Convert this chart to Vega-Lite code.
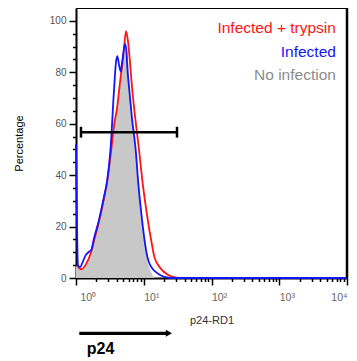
{
  "$schema": "https://vega.github.io/schema/vega-lite/v6.json",
  "width": 271,
  "height": 270,
  "autosize": {"type": "none"},
  "padding": {"left": 76, "top": 8, "right": 10, "bottom": 83},
  "background": "white",
  "config": {
    "font": "Liberation Sans",
    "view": {"stroke": "black", "strokeWidth": 1},
    "axis": {"grid": false, "domainColor": "black", "domainWidth": 2, "tickColor": "black", "tickWidth": 1.5, "labelFont": "Liberation Sans", "titleFont": "Liberation Sans"}
  },
  "datasets": {
    "hist": [
      {"series": "No infection", "x": 1.0, "y": 4.6},
      {"series": "No infection", "x": 1.0452, "y": 4.6},
      {"series": "No infection", "x": 1.1974, "y": 3.6},
      {"series": "No infection", "x": 1.3905, "y": 5.5},
      {"series": "No infection", "x": 1.648, "y": 9.8},
      {"series": "No infection", "x": 1.8443, "y": 14.8},
      {"series": "No infection", "x": 2.1853, "y": 22.5},
      {"series": "No infection", "x": 2.5893, "y": 31.5},
      {"series": "No infection", "x": 2.8969, "y": 38},
      {"series": "No infection", "x": 3.2855, "y": 49.5},
      {"series": "No infection", "x": 3.6756, "y": 60},
      {"series": "No infection", "x": 4.0287, "y": 67},
      {"series": "No infection", "x": 4.5681, "y": 76},
      {"series": "No infection", "x": 5.1115, "y": 86},
      {"series": "No infection", "x": 5.4711, "y": 89},
      {"series": "No infection", "x": 5.8559, "y": 85},
      {"series": "No infection", "x": 6.2677, "y": 72},
      {"series": "No infection", "x": 6.9395, "y": 60},
      {"series": "No infection", "x": 7.6055, "y": 49.5},
      {"series": "No infection", "x": 8.3094, "y": 36.5},
      {"series": "No infection", "x": 9.3246, "y": 23.5},
      {"series": "No infection", "x": 10.434, "y": 12.5},
      {"series": "No infection", "x": 11.556, "y": 6},
      {"series": "No infection", "x": 12.795, "y": 2.5},
      {"series": "No infection", "x": 13.928, "y": 0.5},
      {"series": "No infection", "x": 14.656, "y": 0},
      {"series": "No infection", "x": 10000, "y": 0},
      {"series": "Infected + trypsin", "x": 1.0346, "y": 5},
      {"series": "Infected + trypsin", "x": 1.1974, "y": 3.4},
      {"series": "Infected + trypsin", "x": 1.3905, "y": 5.2},
      {"series": "Infected + trypsin", "x": 1.648, "y": 9.6},
      {"series": "Infected + trypsin", "x": 1.8443, "y": 14.5},
      {"series": "Infected + trypsin", "x": 2.1853, "y": 22},
      {"series": "Infected + trypsin", "x": 2.5893, "y": 31},
      {"series": "Infected + trypsin", "x": 2.8969, "y": 38},
      {"series": "Infected + trypsin", "x": 3.2855, "y": 49},
      {"series": "Infected + trypsin", "x": 3.6756, "y": 60},
      {"series": "Infected + trypsin", "x": 4.0287, "y": 66},
      {"series": "Infected + trypsin", "x": 4.4608, "y": 76},
      {"series": "Infected + trypsin", "x": 5.0253, "y": 87},
      {"series": "Infected + trypsin", "x": 5.4711, "y": 96},
      {"series": "Infected + trypsin", "x": 5.8559, "y": 92},
      {"series": "Infected + trypsin", "x": 6.1204, "y": 87},
      {"series": "Infected + trypsin", "x": 6.7765, "y": 73},
      {"series": "Infected + trypsin", "x": 7.4268, "y": 63},
      {"series": "Infected + trypsin", "x": 8.5094, "y": 49.8},
      {"series": "Infected + trypsin", "x": 9.6498, "y": 36.8},
      {"series": "Infected + trypsin", "x": 11.284, "y": 23.8},
      {"series": "Infected + trypsin", "x": 13.103, "y": 13.5},
      {"series": "Infected + trypsin", "x": 14.312, "y": 8.3},
      {"series": "Infected + trypsin", "x": 16.965, "y": 4.4},
      {"series": "Infected + trypsin", "x": 23.03, "y": 1.2},
      {"series": "Infected + trypsin", "x": 32.359, "y": 0},
      {"series": "Infected + trypsin", "x": 10000, "y": 0},
      {"series": "Infected", "x": 1.0, "y": 52},
      {"series": "Infected", "x": 1.0703, "y": 5},
      {"series": "Infected", "x": 1.1456, "y": 4.2},
      {"series": "Infected", "x": 1.2685, "y": 6.5},
      {"series": "Infected", "x": 1.3905, "y": 8.9},
      {"series": "Infected", "x": 1.5555, "y": 10.2},
      {"series": "Infected", "x": 1.6819, "y": 10.9},
      {"series": "Infected", "x": 1.8443, "y": 15.4},
      {"series": "Infected", "x": 2.1853, "y": 22.6},
      {"series": "Infected", "x": 2.5893, "y": 31.6},
      {"series": "Infected", "x": 2.8969, "y": 38.1},
      {"series": "Infected", "x": 3.2301, "y": 50},
      {"series": "Infected", "x": 3.6384, "y": 73},
      {"series": "Infected", "x": 3.8942, "y": 84},
      {"series": "Infected", "x": 4.07, "y": 86.3},
      {"series": "Infected", "x": 4.3118, "y": 83},
      {"series": "Infected", "x": 4.5681, "y": 80.3},
      {"series": "Infected", "x": 4.8575, "y": 85},
      {"series": "Infected", "x": 5.2882, "y": 91},
      {"series": "Infected", "x": 5.5649, "y": 88},
      {"series": "Infected", "x": 5.6602, "y": 84},
      {"series": "Infected", "x": 6.1204, "y": 73},
      {"series": "Infected", "x": 6.7077, "y": 62},
      {"series": "Infected", "x": 7.6055, "y": 49.8},
      {"series": "Infected", "x": 8.3094, "y": 36.8},
      {"series": "Infected", "x": 9.3246, "y": 23.8},
      {"series": "Infected", "x": 10.434, "y": 13.5},
      {"series": "Infected", "x": 11.284, "y": 8.3},
      {"series": "Infected", "x": 12.795, "y": 4.4},
      {"series": "Infected", "x": 17.373, "y": 1.2},
      {"series": "Infected", "x": 24.402, "y": 0},
      {"series": "Infected", "x": 10000, "y": 0}
    ],
    "legend": [
      {"series": "Infected + trypsin", "x": 6860, "y": 95.4},
      {"series": "Infected", "x": 6860, "y": 86.1},
      {"series": "No infection", "x": 6860, "y": 77.0}
    ]
  },
  "encoding": {
    "x": {"field": "x", "type": "quantitative", "scale": {"type": "log", "domain": [1, 10000], "nice": false},
      "axis": {
        "title": "p24-RD1", "titleFontSize": 11, "titleFontWeight": "normal", "titleColor": "#333", "titlePadding": 12,
        "values": [1,2,3,4,5,6,7,8,9,10,20,30,40,50,60,70,80,90,100,200,300,400,500,600,700,800,900,1000,2000,3000,4000,5000,6000,7000,8000,9000,10000],
        "labelExpr": "datum.value == 1 ? '10⁰' : datum.value == 10 ? '10¹' : datum.value == 100 ? '10²' : datum.value == 1000 ? '10³' : datum.value == 10000 ? '10⁴' : ''",
        "labelOverlap": false, "labelBound": false, "labelFlush": false,
        "labelFontSize": 10.5, "labelColor": "#666", "labelPadding": 7,
        "labelAlign": {"condition": {"test": "datum.value == 10000", "value": "right"}, "value": "left"},
        "labelOffset": {"condition": {"test": "datum.value == 1", "value": 4}, "value": 0},
        "tickSize": {"condition": {"test": "datum.value == 1 || datum.value == 10 || datum.value == 100 || datum.value == 1000 || datum.value == 10000", "value": 7}, "value": 3.5}
      }
    },
    "y": {"field": "y", "type": "quantitative", "scale": {"domain": [0, 105], "nice": false, "zero": false},
      "axis": {
        "title": "Percentage", "titleFontSize": 11, "titleFontWeight": "normal", "titleColor": "black", "titlePadding": 25,
        "values": [0,5,10,15,20,25,30,35,40,45,50,55,60,65,70,75,80,85,90,95,100],
        "labelExpr": "datum.value % 20 == 0 ? datum.label : ''",
        "labelOverlap": false, "labelFontSize": 10, "labelColor": "#555", "labelPadding": 3,
        "tickSize": {"condition": {"test": "datum.value % 20 == 0", "value": 7}, "value": 3.5}
      }
    }
  },
  "layer": [
    {
      "data": {"name": "hist"},
      "transform": [{"filter": "datum.series === 'No infection'"}],
      "mark": {"type": "area", "color": "#c8c8c8", "interpolate": "monotone"},
      "encoding": {}
    },
    {
      "data": {"name": "hist"},
      "transform": [{"filter": "datum.series !== 'No infection'"}],
      "mark": {"type": "line", "strokeWidth": 1.8, "interpolate": "monotone"},
      "encoding": {
        "color": {"field": "series", "type": "nominal", "scale": {"domain": ["Infected + trypsin", "Infected", "No infection"], "range": ["#ff1414", "#1414ff", "#8c8c8c"]}, "legend": null},
        "order": {"field": "x", "type": "quantitative"}
      }
    },
    {
      "data": {"values": [{"x": 1.185, "x2": 30.96, "y": 56.7}]},
      "mark": {"type": "rule", "color": "black", "strokeWidth": 2.5},
      "encoding": {"x2": {"field": "x2"}}
    },
    {
      "data": {"values": [{"x": 1.185, "y": 54.6, "y2": 58.8}, {"x": 30.96, "y": 54.6, "y2": 58.8}, {"x": 10000, "y": 0, "y2": 105}]},
      "mark": {"type": "rule", "color": "black", "strokeWidth": 2.5},
      "encoding": {"y2": {"field": "y2"}}
    },
    {
      "data": {"name": "legend"},
      "mark": {"type": "text", "align": "right", "baseline": "alphabetic", "fontSize": 15.5},
      "encoding": {
        "text": {"field": "series"},
        "color": {"field": "series", "type": "nominal", "scale": {"domain": ["Infected + trypsin", "Infected", "No infection"], "range": ["#ff1414", "#1414ff", "#8c8c8c"]}, "legend": null}
      }
    },
    {
      "data": {"values": [{"x": 1.119, "x2": 22.0, "y": -21.5}]},
      "mark": {"type": "rule", "color": "black", "strokeWidth": 3.3},
      "encoding": {"x2": {"field": "x2"}}
    },
    {
      "data": {"values": [{"x": 23.5, "y": -21.5}]},
      "mark": {"type": "point", "shape": "triangle-right", "filled": true, "color": "black", "size": 50, "opacity": 1},
      "encoding": {}
    },
    {
      "data": {"values": [{"label": "p24", "x": 1.439, "y": -29.6}]},
      "mark": {"type": "text", "align": "left", "baseline": "alphabetic", "fontSize": 16, "fontWeight": "bold", "color": "black"},
      "encoding": {"text": {"field": "label"}}
    }
  ]
}
